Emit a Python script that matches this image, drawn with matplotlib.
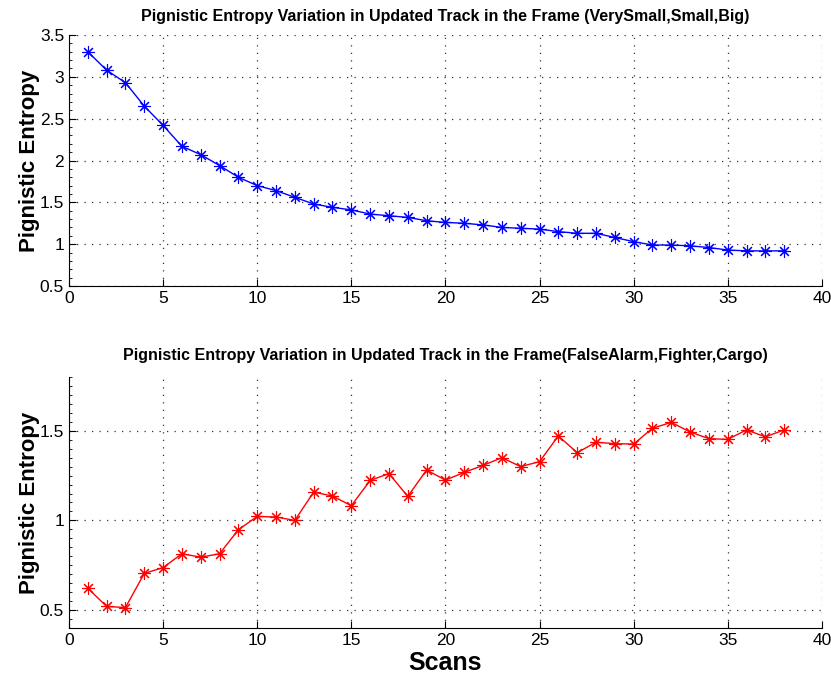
import matplotlib
matplotlib.use("Agg")
import matplotlib.pyplot as plt
from matplotlib.ticker import MultipleLocator

plt.rcParams["font.family"] = ["Liberation Sans", "DejaVu Sans"]

# scan index
scans = list(range(1, 39))

# frame (VerySmall, Small, Big)
entropy_size = [3.30, 3.08, 2.93, 2.65, 2.42, 2.17, 2.07, 1.94, 1.80, 1.70,
                1.64, 1.56, 1.48, 1.44, 1.41, 1.36, 1.34, 1.32, 1.28, 1.26,
                1.25, 1.23, 1.20, 1.19, 1.18, 1.15, 1.13, 1.13, 1.08, 1.03,
                0.99, 0.99, 0.98, 0.96, 0.93, 0.92, 0.92, 0.92]

# frame (FalseAlarm, Fighter, Cargo)
entropy_class = [0.622, 0.520, 0.514, 0.704, 0.737, 0.814, 0.795, 0.814, 0.948, 1.022,
                 1.019, 1.000, 1.158, 1.136, 1.082, 1.223, 1.261, 1.134, 1.281, 1.225,
                 1.268, 1.307, 1.350, 1.300, 1.328, 1.471, 1.378, 1.436, 1.428, 1.426,
                 1.514, 1.547, 1.493, 1.456, 1.452, 1.505, 1.466, 1.505]

xticks = [0, 5, 10, 15, 20, 25, 30, 35, 40]
yticks_top = [0.5, 1, 1.5, 2, 2.5, 3, 3.5]
yticks_bot = [0.5, 1, 1.5]

# matlab-style '*' marker: 8-armed asterisk
ASTERISK = (8, 2, 0)


def style_axes(ax):
    for side in ("top", "right"):
        ax.spines[side].set_visible(False)
    ax.tick_params(direction="in", length=5, labelsize=12.5, width=0.8)
    ax.tick_params(which="minor", direction="in", length=2.5, width=0.6,
                   bottom=False)
    ax.grid(True, which="major", linestyle=(0, (1, 5)), linewidth=0.9,
            color="#333333")
    ax.set_xlim(0, 40)
    ax.set_xticks(xticks)
    ax.set_xticklabels([str(t) for t in xticks])


fig = plt.figure(figsize=(8.31, 6.80), dpi=100)
ax1 = fig.add_axes([0.083, 0.5794, 0.906, 0.3691])
ax2 = fig.add_axes([0.083, 0.0765, 0.906, 0.3691])

ax1.plot(scans, entropy_size, color="blue", marker=ASTERISK, markersize=9,
         markeredgewidth=0.8, linewidth=1.0, clip_on=False)
style_axes(ax1)
ax1.set_ylim(0.5, 3.5)
ax1.set_yticks(yticks_top)
ax1.set_yticklabels(["0.5", "1", "1.5", "2", "2.5", "3", "3.5"])
ax1.yaxis.set_minor_locator(MultipleLocator(0.1))
ax1.set_ylabel("Pignistic Entropy", fontsize=16, fontweight="bold", labelpad=0)
ax1.set_title("Pignistic Entropy Variation in Updated Track in the Frame (VerySmall,Small,Big)",
              fontsize=11.5, fontweight="bold", pad=10)

ax2.plot(scans, entropy_class, color="red", marker=ASTERISK, markersize=9,
         markeredgewidth=0.8, linewidth=1.0, clip_on=False)
style_axes(ax2)
ax2.set_ylim(0.4, 1.8)
ax2.set_yticks(yticks_bot)
ax2.set_yticklabels(["0.5", "1", "1.5"])
ax2.yaxis.set_minor_locator(MultipleLocator(0.05))
ax2.set_ylabel("Pignistic Entropy", fontsize=16, fontweight="bold", labelpad=0)
ax2.set_xlabel("Scans", fontsize=18, fontweight="bold", labelpad=2)
ax2.set_title("Pignistic Entropy Variation in Updated Track in the Frame(FalseAlarm,Fighter,Cargo)",
              fontsize=11.5, fontweight="bold", pad=12)

fig.savefig("out.png", dpi=100)
